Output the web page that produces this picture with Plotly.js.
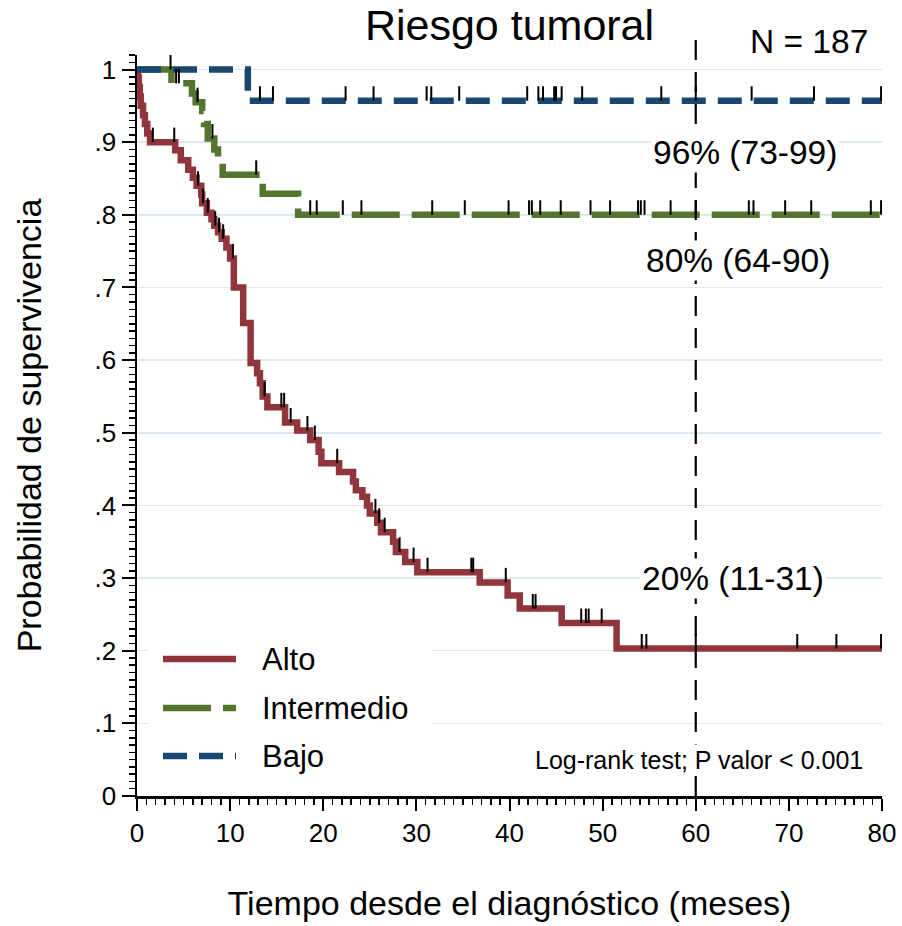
<!DOCTYPE html>
<html><head><meta charset="utf-8">
<script src="https://cdn.plot.ly/plotly-3.0.1.min.js"></script>
<style>html,body{margin:0;padding:0;background:#fff;}</style>
</head><body>
<div id="chart" style="width:902px;height:926px;"></div>
<script>
// ---- data ----
const seriesNames = ['Alto', 'Intermedio', 'Bajo'];
const seriesColors = ['#90353b', '#55752f', '#1a476f'];
const followUpEnd = 80;
const refTime = 60;
const sampleText = 'N = 187';
const refLabels = ['96% (73-99)', '80% (64-90)', '20% (11-31)'];
const testText = 'Log-rank test; P valor < 0.001';

const xTickVals = [0, 10, 20, 30, 40, 50, 60, 70, 80];
const xTickText = ['0', '10', '20', '30', '40', '50', '60', '70', '80'];
const yTickVals = [0, 0.1, 0.2, 0.3, 0.4, 0.5, 0.6, 0.7, 0.8, 0.9, 1];
const yTickText = ['0', '.1', '.2', '.3', '.4', '.5', '.6', '.7', '.8', '.9', '1'];

// Alto: event times (months) and survival after each step
const altoTimes = [0.1, 0.2, 0.3, 0.4, 0.65, 0.85, 1.1, 1.4, 4.1, 4.7, 5.5, 6.0, 6.4, 6.9, 7.0, 7.5, 8.0, 8.3, 8.7, 9.1, 9.6, 10.0, 10.4,
  11.4, 12.2, 12.9, 13.2, 13.5, 14.0, 15.9, 17.2, 18.6, 19.5, 19.8, 21.7, 23.2, 23.5, 24.2, 24.7, 25.0, 25.8, 26.2,
  27.5, 27.8, 28.8, 30.1, 36.8, 39.8, 41.1, 45.6, 51.5];
const altoSurv = [0.989, 0.976, 0.963, 0.950, 0.937, 0.925, 0.912, 0.900, 0.889, 0.875, 0.862, 0.851, 0.840, 0.828, 0.816, 0.803, 0.794, 0.785, 0.776, 0.767, 0.755, 0.740, 0.700,
  0.651, 0.596, 0.582, 0.568, 0.550, 0.535, 0.514, 0.503, 0.490, 0.474, 0.458, 0.446, 0.433, 0.421, 0.412, 0.400, 0.389, 0.376, 0.363,
  0.350, 0.336, 0.322, 0.308, 0.294, 0.276, 0.258, 0.238, 0.203];
const altoCensor = [1.7, 4.0, 6.55, 7.1, 7.6, 8.4, 8.8, 9.25, 10.3, 13.7, 15.5, 15.8, 16.5, 18.3, 19.1, 21.5, 25.6, 26.0, 26.6,
  28.2, 29.7, 31.2, 35.9, 36.1, 39.6, 42.5, 42.8, 47.7, 48.2, 48.5, 49.9, 54.2, 54.7, 60.0, 70.9, 75.1, 79.9];

// Intermedio
const interTimes = [3.7, 5.9, 6.3, 7.0, 7.2, 7.6, 8.3, 8.7, 9.2, 13.5, 17.3];
const interSurv = [0.981, 0.967, 0.955, 0.943, 0.925, 0.905, 0.890, 0.875, 0.855, 0.829, 0.800];
const interCensor = [4.2, 4.5, 6.5, 8.1, 12.8, 18.6, 19.3, 22.1, 24.1, 31.7, 35.2, 39.9, 42.1, 42.4, 43.3, 45.5, 48.7, 50.8,
  53.8, 54.1, 54.5, 57.3, 60.0, 65.7, 66.2, 69.6, 72.4, 78.8, 79.9];

// Bajo
const bajoTimes = [11.9];
const bajoSurv = [0.957];
const bajoCensor = [3.6, 13.2, 14.6, 22.4, 25.4, 31.1, 31.6, 34.6, 41.9, 43.1, 43.6, 44.8, 45.0, 45.6, 47.8, 56.3, 60.0, 66.0, 72.7, 79.9];

// ---- build ----
const FONT = 'Liberation Sans, Arial, Helvetica, sans-serif';
const groups = [
  {times: altoTimes, surv: altoSurv, cens: altoCensor, dash: 'solid'},
  {times: interTimes, surv: interSurv, cens: interCensor, dash: '48px,12px'},
  {times: bajoTimes, surv: bajoSurv, cens: bajoCensor, dash: '24px,12px'}
];
function survAt(times, surv, t) {
  let s = 1;
  for (let i = 0; i < times.length; i++) if (times[i] <= t) s = surv[i];
  return s;
}
const traces = [];
groups.forEach((g, k) => {
  traces.push({
    type: 'scatter', mode: 'lines', name: seriesNames[k], showlegend: false,
    x: [0].concat(g.times, [followUpEnd]),
    y: [1].concat(g.surv, [g.surv[g.surv.length - 1]]),
    line: {shape: 'hv', color: seriesColors[k], width: 6.5, dash: g.dash},
    hoverinfo: 'skip'
  });
});
groups.forEach((g, k) => {
  const cx = [], cy = [];
  g.cens.forEach(t => {
    const s = survAt(g.times, g.surv, t);
    cx.push(t, t, null); cy.push(s, s + 0.02, null);
  });
  traces.push({
    type: 'scatter', mode: 'lines', showlegend: false, name: seriesNames[k] + ' censurados',
    x: cx, y: cy, line: {color: '#000', width: 2}, hoverinfo: 'skip'
  });
});

const W = 902, H = 926;
const M = {l: 137, r: 20, t: 55, b: 130};
const pw = W - M.l - M.r, ph = H - M.t - M.b;
const px = v => (v - M.l) / pw;        // pixel -> paper x
const py = v => (M.t + ph - v) / ph;   // pixel -> paper y

const shapes = [
  {type: 'line', xref: 'paper', yref: 'paper', x0: refTime / followUpEnd, x1: refTime / followUpEnd, y0: 0, y1: py(28),
   line: {color: '#000', width: 2.2, dash: '20px,12px'}, layer: 'above'},
  {type: 'rect', xref: 'paper', yref: 'paper', x0: px(148), x1: px(432), y0: py(785), y1: py(630),
   fillcolor: '#fff', line: {width: 0}, layer: 'above'}
];
const legendY = [659, 708, 756];
const annotations = [];
groups.forEach((g, k) => {
  shapes.push({type: 'line', xref: 'paper', yref: 'paper', x0: px(163), x1: px(236), y0: py(legendY[k]), y1: py(legendY[k]),
    line: {color: seriesColors[k], width: 6.5, dash: g.dash}, layer: 'above'});
  annotations.push({xref: 'paper', yref: 'paper', x: px(260), y: py(legendY[k]), xanchor: 'left', yanchor: 'middle',
    text: seriesNames[k], showarrow: false, font: {family: FONT, size: 31, color: '#000'}});
});
const labelPos = [[65.3, 0.886], [64.5, 0.737], [64.0, 0.300]];
refLabels.forEach((t, i) => {
  annotations.push({x: labelPos[i][0], y: labelPos[i][1], xref: 'x', yref: 'y', text: t, showarrow: false,
    xanchor: 'center', yanchor: 'middle', bgcolor: '#fff', borderpad: 1, font: {family: FONT, size: 33.5, color: '#000'}});
});
annotations.push({x: 60.3, y: 0.0495, xref: 'x', yref: 'y', text: testText, showarrow: false,
  xanchor: 'center', yanchor: 'middle', bgcolor: '#fff', borderpad: 1, font: {family: FONT, size: 25, color: '#000'}});
annotations.push({x: px(809), y: py(42), xref: 'paper', yref: 'paper', text: sampleText, showarrow: false,
  xanchor: 'center', yanchor: 'middle', font: {family: FONT, size: 33.5, color: '#000'}});

const layout = {
  width: W, height: H, margin: M, paper_bgcolor: '#fff', plot_bgcolor: '#fff',
  font: {family: FONT, color: '#000'},
  title: {text: 'Riesgo tumoral', x: 0.5, xref: 'paper', y: 1 - 25 / H, yref: 'container', yanchor: 'middle',
    font: {family: FONT, size: 43, color: '#000'}},
  showlegend: false,
  xaxis: {
    range: [0, followUpEnd], tickvals: xTickVals, ticktext: xTickText, showgrid: false, zeroline: false,
    showline: true, linecolor: '#000', linewidth: 2.5, ticks: 'outside', ticklen: 12, tickwidth: 2, tickcolor: '#000',
    tickfont: {family: FONT, size: 26, color: '#000'},
    minor: {dtick: 1, ticklen: 6, tickwidth: 1.5, tickcolor: '#000', ticks: 'outside', showgrid: false},
    title: {text: 'Tiempo desde el diagnóstico (meses)', font: {family: FONT, size: 34, color: '#000'}, standoff: 45}
  },
  yaxis: {
    range: [0, 1.02], tickvals: yTickVals, ticktext: yTickText, showgrid: true, gridcolor: '#dfe8ee', gridwidth: 1.5,
    zeroline: false, showline: true, linecolor: '#000', linewidth: 2.5, ticks: 'outside', ticklen: 13, tickwidth: 2,
    tickcolor: '#000', tickfont: {family: FONT, size: 26, color: '#000'},
    minor: {dtick: 0.01, ticklen: 6, tickwidth: 1.5, tickcolor: '#000', ticks: 'outside', showgrid: false},
    title: {text: 'Probabilidad de supervivencia', font: {family: FONT, size: 34, color: '#000'}, standoff: 43}
  },
  shapes: shapes, annotations: annotations
};
Plotly.newPlot('chart', traces, layout, {displayModeBar: false, staticPlot: true});
</script>
</body></html>
